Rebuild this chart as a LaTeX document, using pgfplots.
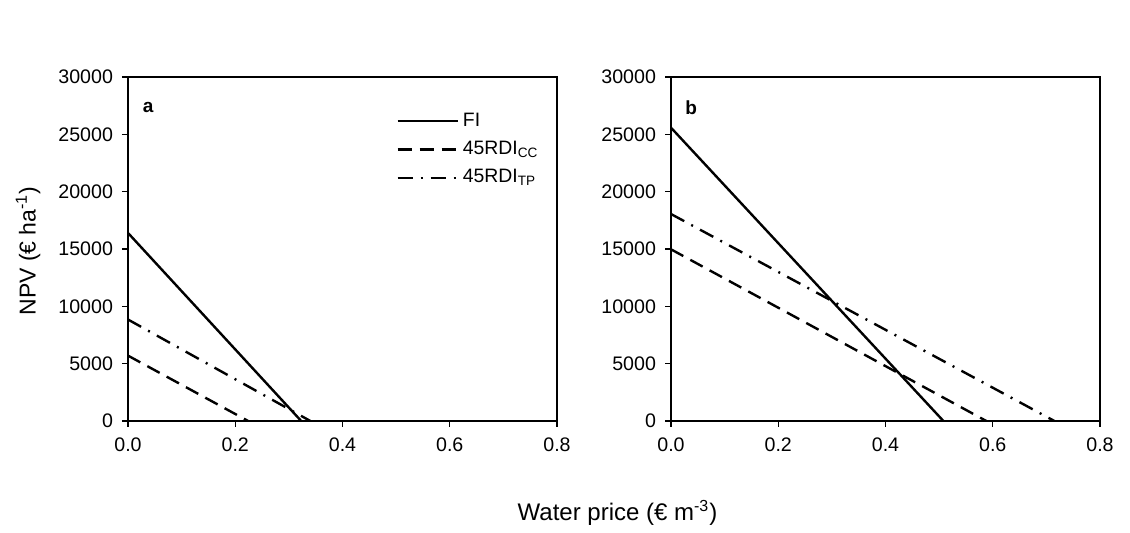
\documentclass[border=0pt]{standalone}
\usepackage{fontspec}
\setmainfont{Liberation Sans}
\usepackage{pgfplots}
\pgfplotsset{compat=1.18}

\pgfplotsset{
  npvpanel/.style={
    scale only axis,
    width=214.5pt, height=172pt,
    xmin=0, xmax=0.8, ymin=0, ymax=30000,
    xtick={0,0.2,0.4,0.6,0.8},
    ytick={0,5000,10000,15000,20000,25000,30000},
    xtick pos=bottom, ytick pos=left,
    tick align=outside,
    major tick length=3pt,
    scaled y ticks=false,
    axis line style={line width=0.6pt},
    every tick/.style={black, line width=0.6pt},
    /pgf/number format/assume math mode=true,
    xticklabel style={/pgf/number format/fixed, /pgf/number format/fixed zerofill, /pgf/number format/precision=1, yshift=-2pt},
    yticklabel style={/pgf/number format/set thousands separator={}, xshift=-1pt},
    tick label style={font=\fontsize{9.8}{11}\selectfont},
  },
  fi/.style={black, line width=1.2pt},
  cc/.style={black, line width=1.2pt, dash pattern=on 7pt off 4pt},
  tp/.style={black, line width=1.2pt, dash pattern=on 7.5pt off 4pt on 1pt off 4pt},
}

\begin{document}
\begin{tikzpicture}
\path (0,0) rectangle (565pt,264.5pt);

% panel a
\begin{axis}[npvpanel, at={(64pt,54pt)}, anchor=south west,
  legend style={at={(rel axis cs:0.611,0.92)}, anchor=north west, draw=none, fill=none,
    font=\fontsize{9.7}{11}\selectfont, row sep=2pt,
    legend cell align=left},
  legend image code/.code={\draw[#1] (0pt,0pt) -- (30pt,0pt);},
]
\addplot[fi] coordinates {(0,16400) (0.323,0)};
\addlegendentry{FI}
\addplot[cc] coordinates {(0,5700) (0.224,0)};
\addlegendentry{45RDI\textsubscript{CC}}
\addplot[tp] coordinates {(0,8850) (0.34,0)};
\addlegendentry{45RDI\textsubscript{TP}}
\node[font=\bfseries\fontsize{9.5}{11}\selectfont] at (rel axis cs:0.047,0.91) {a};
\end{axis}

% panel b
\begin{axis}[npvpanel, at={(335.5pt,54pt)}, anchor=south west]
\addplot[fi] coordinates {(0,25580) (0.508,0)};
\addplot[cc] coordinates {(0,14970) (0.588,0)};
\addplot[tp] coordinates {(0,18050) (0.715,0)};
\node[font=\bfseries\fontsize{9.5}{11}\selectfont] at (rel axis cs:0.047,0.91) {b};
\end{axis}

\node[rotate=90, font=\fontsize{11.5}{13}\selectfont] at (14pt,139pt) {NPV (€ ha\textsuperscript{-1})};
\node[font=\fontsize{12}{14}\selectfont] at (308.75pt,8pt) {Water price (€ m\textsuperscript{-3})};
\end{tikzpicture}
\end{document}
